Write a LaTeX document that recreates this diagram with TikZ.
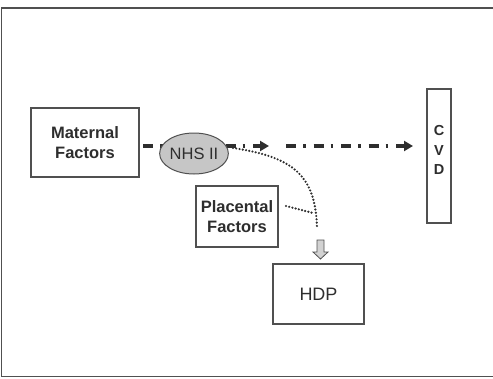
\documentclass[tikz,border=0pt]{standalone}
\usepackage{fontspec}
\setmainfont{Liberation Sans}
\usetikzlibrary{arrows.meta,shapes.geometric}
\definecolor{ink}{HTML}{2E2E2E}
\definecolor{edge}{HTML}{505050}
\begin{document}
\begin{tikzpicture}[x=1pt,y=-1pt,
  boxstyle/.style={draw=edge, line width=1.2pt, inner sep=0pt, text=ink, align=center},
  dashdot/.style={draw=ink, line width=3.2pt, dash pattern=on 10pt off 7pt on 2.5pt off 8pt,
     -{Triangle[length=9pt,width=10pt]}},
  dotline/.style={draw=ink, line width=2.4pt, dash pattern=on 0pt off 3.3pt, line cap=round}]
\useasboundingbox (0,0) rectangle (493,378);
\fill[white] (0,0) rectangle (493,378);
% outer frame (right side cut off)
\draw[edge, line width=1.5pt] (500,8) -- (1.5,8) -- (1.5,376.5) -- (500,376.5);

% boxes
\node[boxstyle, minimum width=108pt, minimum height=69pt, font=\bfseries\fontsize{16.5}{20}\selectfont]
  (mat) at (85,142.5) {Maternal\\Factors};
\node[boxstyle, minimum width=24pt, minimum height=134pt] (cvd) at (439,156) {};
\node[text=ink, font=\bfseries\fontsize{14.5}{19.5}\selectfont, align=center] (cvdtext) at (439,150) {C\\V\\D};
\node[boxstyle, minimum width=82pt, minimum height=61pt, font=\bfseries\fontsize{16.5}{20}\selectfont]
  (plac) at (237,216.5) {Placental\\Factors};
\node[boxstyle, minimum width=91pt, minimum height=60pt, font=\fontsize{18}{20}\selectfont]
  (hdp) at (318.5,294) {HDP};

% arrows
\coordinate (a1s) at (143,146);
\coordinate (a1e) at (269,146);
\coordinate (a2s) at (286,146);
\coordinate (a2e) at (413,146);
\draw[dashdot] (a1s) -- (a1e);
\draw[dashdot] (a2s) -- (a2e);

% NHS II ellipse
\node[draw=edge, fill=gray!45, line width=1pt, ellipse, minimum width=54pt, minimum height=41pt,
  inner sep=0pt, text=ink, font=\fontsize{16.5}{18}\selectfont] (nhs) at (194,153.5) {NHS II};

% dotted curve
\coordinate (c0) at (233,148);
\coordinate (c1) at (317,229);
\coordinate (pj) at (313,213);
\coordinate (ps) at (286,206);
\draw[dotline] (c0) .. controls (294,157) and (316,176) .. (c1);
\draw[dotline] (ps) -- (pj);

% block arrow
\draw[edge, fill=gray!35, line width=0.8pt]
  (317,240) -- (324,240) -- (324,252) -- (328,252) -- (320.5,259) -- (313,252) -- (317,252) -- cycle;
\end{tikzpicture}
\end{document}
